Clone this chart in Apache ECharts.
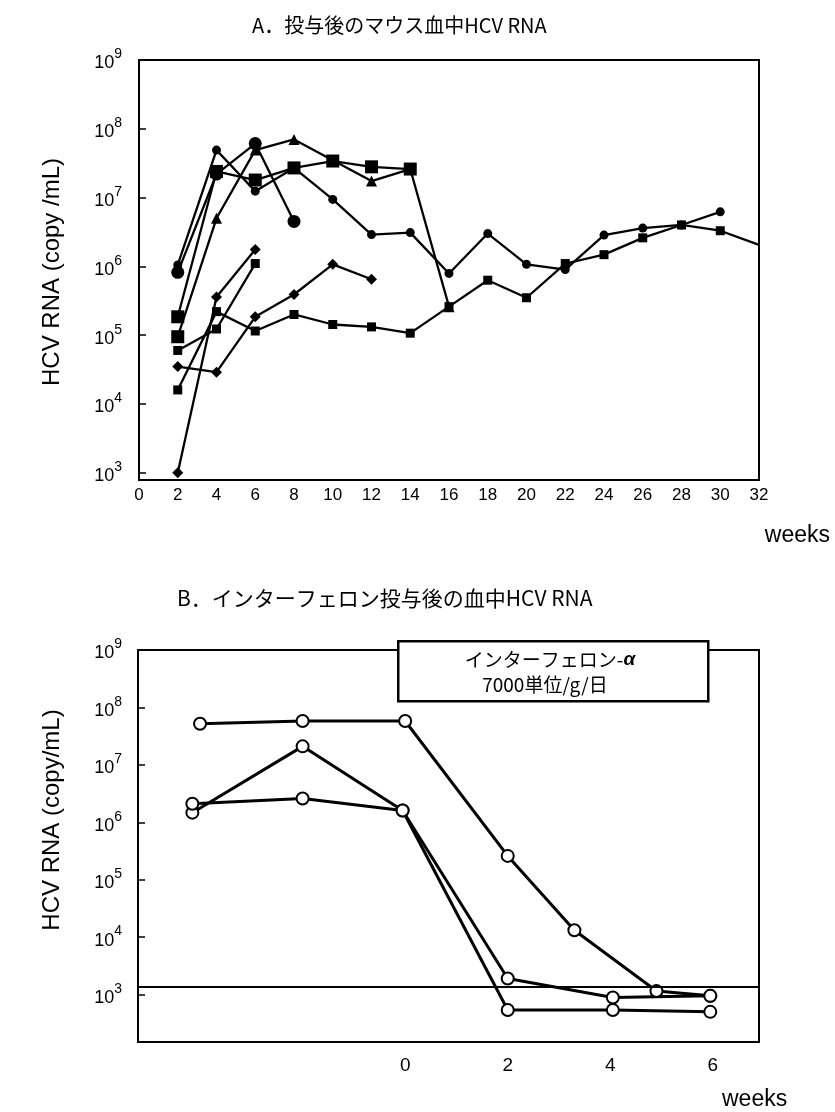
<!DOCTYPE html>
<html><head><meta charset="utf-8">
<script src="https://cdn.jsdelivr.net/npm/echarts@6/dist/echarts.min.js"></script>
<style>html,body{margin:0;padding:0;background:#fff}#c{width:835px;height:1112px}</style>
</head><body><div id="c"></div><script>
// ---------- Panel A data (weeks after inoculation, HCV RNA copy/mL) ----------
const titleA = 'A．投与後のマウス血中HCV RNA';
const titleB = 'B．インターフェロン投与後の血中HCV RNA';
const yNameA = 'HCV RNA (copy /mL)';
const yNameB = 'HCV RNA (copy/mL)';
const xUnit = 'weeks';
const xTicksA = [0,2,4,6,8,10,12,14,16,18,20,22,24,26,28,30,32];
const yDecadesA = [3,4,5,6,7,8,9];

const wkA1 = [2,4,6,8,10,12,14,16,18,20,22,24,26,28,30];
const rnaA1 = [1.05e6,4.9e7,1.24e7,2.7e7,9.4e6,2.9e6,3.1e6,7.9e5,3.0e6,1.07e6,9.0e5,2.85e6,3.6e6,4.0e6,6.2e6];
const wkA2 = [2,4,6,8];
const rnaA2 = [8.2e5,2.2e7,6.1e7,4.5e6];
const wkA3 = [2,4,6,8,10,12,14];
const rnaA3 = [1.85e5,2.4e7,1.8e7,2.7e7,3.4e7,2.8e7,2.6e7];
const wkA4 = [2,4,6,8,10,12,14,16];
const rnaA4 = [9.5e4,5.0e6,4.9e7,7.0e7,3.5e7,1.74e7,2.6e7,2.6e5];
const wkA5 = [2,4,6];
const rnaA5 = [1.0e3,3.6e5,1.76e6];
const wkA6 = [2,4,6];
const rnaA6 = [6.0e4,1.23e5,1.1e6];
const wkA7 = [2,4,6,8,10,12];
const rnaA7 = [3.5e4,2.9e4,1.85e5,3.9e5,1.07e6,6.5e5];
const wkA8 = [2,4,6,8,10,12,14,16,18,20,22,24,26,28,30,32];
const rnaA8 = [1.6e4,2.2e5,1.15e5,2.0e5,1.43e5,1.32e5,1.07e5,2.6e5,6.3e5,3.5e5,1.1e6,1.48e6,2.6e6,4.0e6,3.3e6,2.05e6];

// ---------- Panel B data (weeks relative to interferon start) ----------
const xTicksB = [0,2,4,6];
const yDecadesB = [3,4,5,6,7,8,9];
const wkB1 = [-4.0,-2.0,0.0,2.0,3.3,4.9,5.95];
const rnaB1 = [5.2e7,5.8e7,5.8e7,2.6e5,1.32e4,1.15e3,9.5e2];
const wkB2 = [-4.15,-2.0,-0.05,2.0,4.05,5.95];
const rnaB2 = [1.47e6,2.1e7,1.6e6,1.9e3,8.9e2,9.5e2];
const wkB3 = [-4.15,-2.0,-0.05,2.0,4.05,5.95];
const rnaB3 = [2.1e6,2.6e6,1.6e6,5.4e2,5.4e2,5.0e2];
const detectionLimit = 1.36e3;
const boxLine1 = 'インターフェロン-';
const boxAlpha = 'α';
const boxLine2 = '7000単位/g/日';

const FONT = 'Liberation Sans';
const CJK = 'Noto Sans CJK JP';
const lg = v => Math.log10(v);
const pairs = (w, v) => w.map((x, i) => [x, lg(v[i])]);

const supRich = {
  b: {fontSize: 18, color: '#000', fontFamily: FONT, lineHeight: 25, verticalAlign: 'bottom'},
  s: {fontSize: 14, color: '#000', fontFamily: FONT, lineHeight: 14, verticalAlign: 'top'}
};
const supFmt = v => '{b|10}{s|' + Math.round(v) + '}';

function lineA(w, v, symbol, size, extra) {
  const s = {
    type: 'line', xAxisIndex: 0, yAxisIndex: 0,
    data: pairs(w, v), symbol: symbol, symbolSize: size, showAllSymbol: true,
    lineStyle: {color: '#000', width: 2.3}, itemStyle: {color: '#000'},
    emphasis: {disabled: true}, animation: false
  };
  return Object.assign(s, extra || {});
}
function lineB(w, v, extra) {
  const s = {
    type: 'line', xAxisIndex: 1, yAxisIndex: 1,
    data: pairs(w, v), symbol: 'circle', symbolSize: 12, showAllSymbol: true,
    lineStyle: {color: '#000', width: 3},
    itemStyle: {color: '#fff', borderColor: '#000', borderWidth: 2},
    emphasis: {disabled: true}, animation: false, z: 3
  };
  return Object.assign(s, extra || {});
}

const sA8 = lineA(wkA8, rnaA8, 'rect', 9);
sA8.data[sA8.data.length - 1] = {value: sA8.data[sA8.data.length - 1], symbol: 'none'};
const sA4 = lineA(wkA4, rnaA4, 'triangle', 11);
sA4.data[0] = {value: sA4.data[0], symbol: 'rect', symbolSize: 13};

const sB1 = lineB(wkB1, rnaB1, {
  markLine: {symbol: 'none', silent: true, animation: false, label: {show: false},
    lineStyle: {color: '#000', width: 2, type: 'solid'}, data: [{yAxis: lg(detectionLimit)}]}
});

const chart = echarts.init(document.getElementById('c'), null, {renderer: 'canvas'});
chart.setOption({
  backgroundColor: '#fff',
  animation: false,
  textStyle: {fontFamily: FONT, color: '#000'},
  title: [
    {text: titleA, left: 247, top: 10, textStyle: {fontFamily: CJK, fontSize: 20, fontWeight: 'normal', color: '#000'}},
    {text: titleB, left: 172, top: 583, textStyle: {fontFamily: CJK, fontSize: 21, fontWeight: 'normal', color: '#000'}}
  ],
  grid: [
    {left: 139, top: 60, width: 620, height: 420, show: true, borderColor: '#000', borderWidth: 2, backgroundColor: 'transparent'},
    {left: 138, top: 650, width: 621, height: 392, show: true, borderColor: '#000', borderWidth: 2, backgroundColor: 'transparent'}
  ],
  xAxis: [
    {gridIndex: 0, type: 'value', min: 0, max: 32, interval: 2,
      axisLine: {show: true, onZero: false, lineStyle: {color: '#000', width: 2}},
      axisTick: {show: false}, splitLine: {show: false},
      axisLabel: {color: '#000', fontSize: 17, fontFamily: FONT, margin: 7, customValues: xTicksA}},
    {gridIndex: 1, type: 'value', min: -5.21, max: 6.9,
      axisLine: {show: true, onZero: false, lineStyle: {color: '#000', width: 2}},
      axisTick: {show: false}, splitLine: {show: false},
      axisLabel: {color: '#000', fontSize: 19, fontFamily: FONT, margin: 14, customValues: xTicksB}}
  ],
  yAxis: [
    {gridIndex: 0, type: 'value', min: 2.895, max: 9,
      axisLine: {show: true, onZero: false, lineStyle: {color: '#000', width: 2}},
      axisTick: {show: true, inside: true, length: 7, customValues: yDecadesA, lineStyle: {color: '#000', width: 1.5}},
      splitLine: {show: false},
      axisLabel: {margin: 17, customValues: yDecadesA, formatter: supFmt, rich: supRich}},
    {gridIndex: 1, type: 'value', min: 2.174, max: 9,
      axisLine: {show: true, onZero: false, lineStyle: {color: '#000', width: 2}},
      axisTick: {show: true, inside: true, length: 7, customValues: yDecadesB, lineStyle: {color: '#000', width: 1.5}},
      splitLine: {show: false},
      axisLabel: {margin: 16, customValues: yDecadesB, formatter: supFmt, rich: supRich}}
  ],
  series: [
    sA8,
    lineA(wkA7, rnaA7, 'diamond', 11),
    lineA(wkA6, rnaA6, 'rect', 9),
    lineA(wkA5, rnaA5, 'diamond', 11),
    sA4,
    lineA(wkA3, rnaA3, 'rect', 13),
    lineA(wkA2, rnaA2, 'circle', 13),
    lineA(wkA1, rnaA1, 'circle', 9),
    sB1,
    lineB(wkB2, rnaB2),
    lineB(wkB3, rnaB3)
  ],
  graphic: [
    {type: 'text', x: 52, y: 272, rotation: Math.PI / 2,
      style: {text: yNameA, font: '24px "Liberation Sans"', fill: '#000', align: 'center', verticalAlign: 'middle'}},
    {type: 'text', x: 52, y: 820, rotation: Math.PI / 2,
      style: {text: yNameB, font: '24px "Liberation Sans"', fill: '#000', align: 'center', verticalAlign: 'middle'}},
    {type: 'text', right: 5, top: 524, style: {text: xUnit, font: '23px "Liberation Sans"', fill: '#000'}},
    {type: 'text', left: 722, top: 1088, style: {text: xUnit, font: '23px "Liberation Sans"', fill: '#000'}},
    {type: 'rect', left: 397, top: 640, z: 10, shape: {width: 310, height: 60},
      style: {fill: '#fff', stroke: '#000', lineWidth: 2.5}},
    {type: 'text', z: 11, x: 550, y: 660,
      style: {text: '{n|' + boxLine1 + '}{a|' + boxAlpha + '}', fill: '#000', align: 'center', verticalAlign: 'middle',
        rich: {n: {fontFamily: CJK, fontSize: 19}, a: {fontFamily: FONT, fontSize: 19, fontStyle: 'italic', fontWeight: 'bold'}}}},
    {type: 'text', z: 11, x: 545, y: 685,
      style: {text: boxLine2, font: '19px "Noto Sans CJK JP"', fill: '#000', align: 'center', verticalAlign: 'middle'}}
  ]
});
</script></body></html>
